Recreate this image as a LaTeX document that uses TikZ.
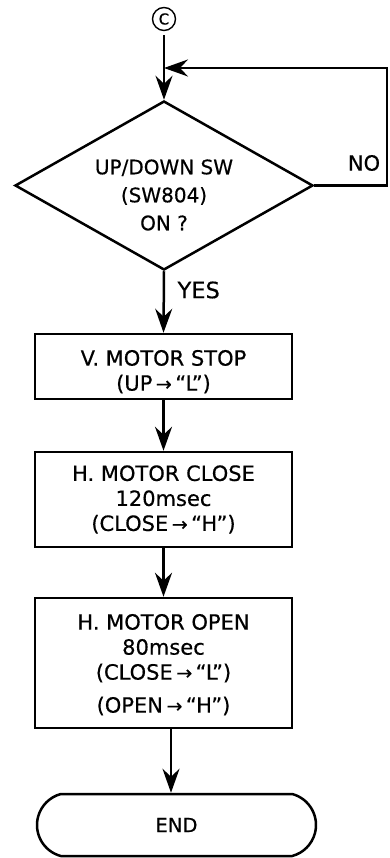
\documentclass[tikz,border=0pt]{standalone}
\usepackage{fontspec}
\setmainfont{DejaVu Sans}[FakeBold=0.5]
\usetikzlibrary{shapes.geometric,shapes.misc,arrows.meta,calc}
\begin{document}
\begin{tikzpicture}[x=1pt,y=-1pt,
  line width=2.5pt,
  arr/.style={-{Stealth[length=24pt,width=17pt,inset=8pt]}},
  stepbox/.style={draw,rectangle,minimum width=257pt,inner sep=0pt,align=center,font=\fontsize{21}{25}\selectfont},
]
\useasboundingbox (0,0) rectangle (389,858);
\newcommand{\ar}{{\fontsize{19}{20}\selectfont→}}
\node[draw,circle,line width=1.4pt,minimum size=23pt,inner sep=0pt,font=\fontsize{15}{15}\selectfont] (C) at (164,19) {C};
\node[draw,diamond,minimum width=298pt,minimum height=169pt,aspect=1.76,inner sep=0pt] (d) at (164,185.5) {};
\node[align=center,font=\fontsize{20}{28}\selectfont] (dt) at (164,195) {UP/DOWN SW\\(SW804)\\ON ?};
\coordinate (j) at (164,68);
\coordinate (r) at (387,68);
\node[font=\fontsize{21}{22}\selectfont] (no) at (364,163) {NO};
\node[font=\fontsize{22.5}{24}\selectfont,anchor=west] (yes) at (173,290) {YES};
\node[stepbox,minimum height=65pt] (b1) at (163.5,366.5) {\rule{0pt}{26pt}V. MOTOR STOP\\(UP\,\ar\,“L”)};
\node[stepbox,minimum height=95pt] (b2) at (163.5,499.5) {H. MOTOR CLOSE\\120msec\\(CLOSE\,\ar\,“H”)};
\node[stepbox,minimum height=130pt] (b3) at (163.5,663) {\rule{0pt}{19pt}H. MOTOR OPEN\\80msec\\(CLOSE\,\ar\,“L”)\\[8pt](OPEN\,\ar\,“H”)};
\node[draw,rounded rectangle,rounded rectangle arc length=150,minimum width=279pt,minimum height=62pt,inner sep=0pt,font=\fontsize{19.5}{22}\selectfont] (E) at (176.5,825) {END};
\coordinate (ax) at (171,0);
\draw[arr] (C.south) ++(0,4) -- (d.north);
\draw[arr] (d.east) -| (r) -- (j);
\draw[arr] (d.south) -- (b1.north);
\draw[arr] (b1.south) -- (b2.north);
\draw[arr] (b2.south) -- (b3.north);
\draw[arr] (b3.south -| ax) -- (E.north -| ax);
\end{tikzpicture}
\end{document}
